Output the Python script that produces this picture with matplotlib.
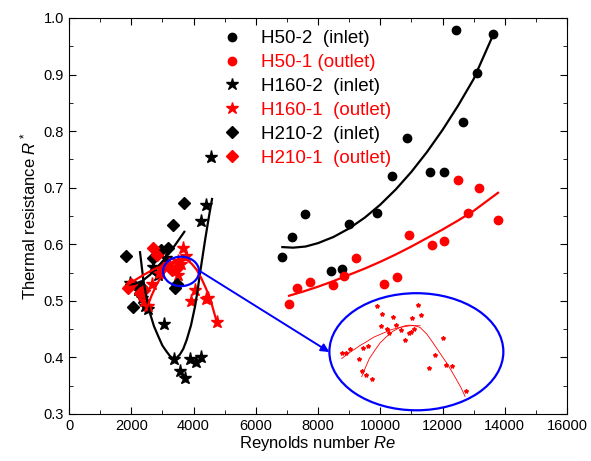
import matplotlib
matplotlib.use("Agg")
import matplotlib.pyplot as plt
from matplotlib.lines import Line2D
from matplotlib.patches import Ellipse

plt.rcParams["font.family"] = ["Liberation Sans", "DejaVu Sans"]
plt.rcParams["mathtext.fontset"] = "custom"
plt.rcParams["mathtext.rm"] = "Liberation Sans"
plt.rcParams["mathtext.it"] = "Liberation Sans:italic"

# H50 (circles)
h50_in_re = [6854, 7165, 7573, 8996, 8408, 8761, 9907, 10368, 10849, 11599, 12038, 12424, 12659, 13099, 13634]
h50_in_r = [0.578, 0.612, 0.653, 0.636, 0.553, 0.556, 0.656, 0.721, 0.788, 0.728, 0.728, 0.978, 0.817, 0.903, 0.971]
h50_out_re = [7069, 7315, 7744, 8473, 8836, 9221, 10121, 10539, 10934, 11654, 12039, 12509, 12811, 13174, 13784]
h50_out_r = [0.494, 0.523, 0.534, 0.528, 0.544, 0.576, 0.530, 0.543, 0.617, 0.599, 0.606, 0.713, 0.655, 0.699, 0.643]

# H160 (stars)
h160_in_re = [1950, 2200, 2350, 2450, 2550, 2700, 2850, 3100, 3050, 3363, 3566, 3727, 3888, 4070, 4251, 4241, 4412, 4560]
h160_in_r = [0.532, 0.520, 0.505, 0.490, 0.485, 0.560, 0.545, 0.575, 0.459, 0.397, 0.376, 0.363, 0.398, 0.392, 0.400, 0.642, 0.669, 0.754]
h160_out_re = [2400, 2550, 2650, 2900, 3200, 3400, 3500, 3600, 3653, 3750, 3500, 3910, 4048, 4402, 4480, 4745]
h160_out_r = [0.500, 0.490, 0.530, 0.550, 0.565, 0.555, 0.570, 0.565, 0.593, 0.580, 0.545, 0.500, 0.520, 0.503, 0.505, 0.463]

# H210 (diamonds)
h210_in_re = [1831, 2066, 2300, 2700, 2950, 3190, 3352, 3695, 3406, 3480]
h210_in_r = [0.579, 0.489, 0.525, 0.575, 0.590, 0.594, 0.634, 0.673, 0.523, 0.530]
h210_out_re = [1885, 2000, 2281, 2400, 2710, 2817, 3000, 3300, 3500]
h210_out_r = [0.522, 0.530, 0.513, 0.520, 0.593, 0.581, 0.560, 0.555, 0.560]

# fitted curves
fit50_in_re = [6854, 7200, 7600, 8000, 8500, 9000, 9500, 10000, 10500, 11000, 11500, 12000, 12500, 13000, 13634]
fit50_in_r = [0.595, 0.594, 0.596, 0.602, 0.613, 0.628, 0.647, 0.670, 0.697, 0.728, 0.763, 0.802, 0.845, 0.892, 0.971]
fit50_out_re = [7069, 7500, 8000, 8500, 9000, 9500, 10000, 10500, 11000, 11500, 12000, 12500, 13000, 13784]
fit50_out_r = [0.509, 0.516, 0.525, 0.535, 0.546, 0.557, 0.569, 0.582, 0.596, 0.611, 0.626, 0.642, 0.659, 0.691]
fit160_in_re = [2281, 2388, 2500, 2602, 2730, 2870, 3000, 3138, 3250, 3352, 3450, 3560, 3670, 3781, 3920, 4048, 4130, 4209, 4290, 4370, 4450, 4530, 4595]
fit160_in_r = [0.586, 0.537, 0.503, 0.478, 0.455, 0.437, 0.421, 0.410, 0.402, 0.398, 0.399, 0.405, 0.415, 0.431, 0.457, 0.490, 0.518, 0.549, 0.578, 0.607, 0.634, 0.660, 0.680]
fit160_out_re = [2500, 2650, 2800, 2950, 3100, 3250, 3400, 3550, 3650, 3800, 3950, 4100, 4250, 4400, 4550, 4745]
fit160_out_r = [0.487, 0.509, 0.527, 0.542, 0.553, 0.563, 0.569, 0.573, 0.574, 0.572, 0.565, 0.555, 0.540, 0.522, 0.501, 0.463]
fit210_in_re = [1850, 2100, 2350, 2600, 2850, 3100, 3400, 3705]
fit210_in_r = [0.528, 0.530, 0.535, 0.546, 0.560, 0.576, 0.598, 0.622]
fit210_out_re = [1800, 2100, 2400, 2700, 3000, 3300, 3600]
fit210_out_r = [0.525, 0.536, 0.546, 0.555, 0.562, 0.568, 0.572]

# magnified inset (drawn inside the large ellipse)
inset_re = [9886, 11203, 10067, 10410, 11310, 11011, 10024, 10497, 10227, 11095, 10667, 10924, 10979, 10291, 10796,
            12007, 9029, 8771, 8900, 9597, 9456, 9308, 11769, 11557, 12103, 12316, 9404, 9552, 9745, 12746]
inset_r = [0.491, 0.493, 0.476, 0.472, 0.475, 0.469, 0.456, 0.457, 0.450, 0.450, 0.448, 0.444, 0.445, 0.443, 0.431,
           0.435, 0.414, 0.408, 0.408, 0.421, 0.417, 0.398, 0.404, 0.381, 0.386, 0.384, 0.376, 0.369, 0.361, 0.341]
inset_a_re = [8762, 9000, 9135, 9350, 9565, 9800, 10099, 10350, 10635, 10956, 11278]
inset_a_r = [0.398, 0.408, 0.413, 0.421, 0.428, 0.436, 0.443, 0.449, 0.453, 0.456, 0.456]
inset_b_re = [9404, 9500, 9650, 9832, 10000, 10208, 10400, 10635, 10800, 10956, 11100, 11278, 11500, 11705,
              11900, 12136, 12300, 12457, 12600, 12724]
inset_b_r = [0.366, 0.379, 0.398, 0.413, 0.426, 0.437, 0.446, 0.453, 0.456, 0.457, 0.456, 0.453, 0.441, 0.425,
             0.409, 0.390, 0.375, 0.360, 0.346, 0.331]

small_ell = (3600, 0.552, 1160, 0.052)
big_ell = (11160, 0.410, 5590, 0.207)
arrow_from = (4190, 0.553)
arrow_to = (8364, 0.4095)

labels = ["H50-2  (inlet)", "H50-1 (outlet)", "H160-2  (inlet)", "H160-1  (outlet)", "H210-2  (inlet)", "H210-1  (outlet)"]

fig = plt.figure(figsize=(5.91, 4.61), dpi=100)
ax = fig.add_axes([0.1168, 0.102, 0.8426, 0.859])

ms = dict(linestyle="none")
ax.plot(h50_in_re, h50_in_r, marker="o", color="black", markersize=6, **ms)
ax.plot(h50_out_re, h50_out_r, marker="o", color="red", markersize=6, **ms)
ax.plot(h160_in_re, h160_in_r, marker="*", color="black", markersize=9.5, **ms)
ax.plot(h160_out_re, h160_out_r, marker="*", color="red", markersize=9.5, **ms)
ax.plot(h210_in_re, h210_in_r, marker="D", color="black", markersize=6, **ms)
ax.plot(h210_out_re, h210_out_r, marker="D", color="red", markersize=6, **ms)

ax.plot(fit50_in_re, fit50_in_r, color="black", lw=1.6)
ax.plot(fit50_out_re, fit50_out_r, color="red", lw=1.6)
ax.plot(fit160_in_re, fit160_in_r, color="black", lw=1.6)
ax.plot(fit160_out_re, fit160_out_r, color="red", lw=1.6)
ax.plot(fit210_in_re, fit210_in_r, color="black", lw=1.6)
ax.plot(fit210_out_re, fit210_out_r, color="red", lw=1.6)

ax.plot(inset_re, inset_r, marker="*", color="red", markersize=3, linestyle="none")
ax.plot(inset_a_re, inset_a_r, color="red", lw=0.6)
ax.plot(inset_b_re, inset_b_r, color="red", lw=0.6)

for cx, cy, w, h in (small_ell, big_ell):
    ax.add_patch(Ellipse((cx, cy), w, h, fill=False, edgecolor="blue", lw=1.6, zorder=5))
ax.annotate("", xy=arrow_to, xytext=arrow_from,
            arrowprops=dict(arrowstyle="-|>", color="blue", lw=1.4, mutation_scale=12, shrinkA=0, shrinkB=0))

handles = [
    Line2D([], [], marker="o", color="black", ls="none", markersize=6),
    Line2D([], [], marker="o", color="red", ls="none", markersize=6),
    Line2D([], [], marker="*", color="black", ls="none", markersize=9),
    Line2D([], [], marker="*", color="red", ls="none", markersize=9),
    Line2D([], [], marker="D", color="black", ls="none", markersize=6),
    Line2D([], [], marker="D", color="red", ls="none", markersize=6),
]
ax.legend(handles, labels, loc="upper left", bbox_to_anchor=(0.29, 0.993), frameon=False,
          fontsize=13.5, labelspacing=0.36, handlelength=1.0, handletextpad=1.05, borderaxespad=0.1,
          labelcolor=["black", "red", "black", "red", "black", "red"])

ax.set_xlim(0, 16000)
ax.set_ylim(0.3, 1.0)
ax.set_xticks(range(0, 16001, 2000))
ax.set_xticks(range(1000, 16000, 2000), minor=True)
ax.set_yticks([0.3, 0.4, 0.5, 0.6, 0.7, 0.8, 0.9, 1.0])
ax.set_yticks([0.35, 0.45, 0.55, 0.65, 0.75, 0.85, 0.95], minor=True)
ax.set_yticklabels(["0.3", "0.4", "0.5", "0.6", "0.7", "0.8", "0.9", "1.0"])
ax.tick_params(which="both", direction="in", top=True, right=True, labelsize=10.5)
ax.tick_params(which="major", length=5)
ax.tick_params(which="minor", length=3)
ax.set_xlabel("Reynolds number $\\mathit{Re}$", fontsize=12, labelpad=1)
ax.set_ylabel("Thermal resistance $\\mathit{R}^*$", fontsize=12, labelpad=4)

fig.savefig("out.png", dpi=100)
